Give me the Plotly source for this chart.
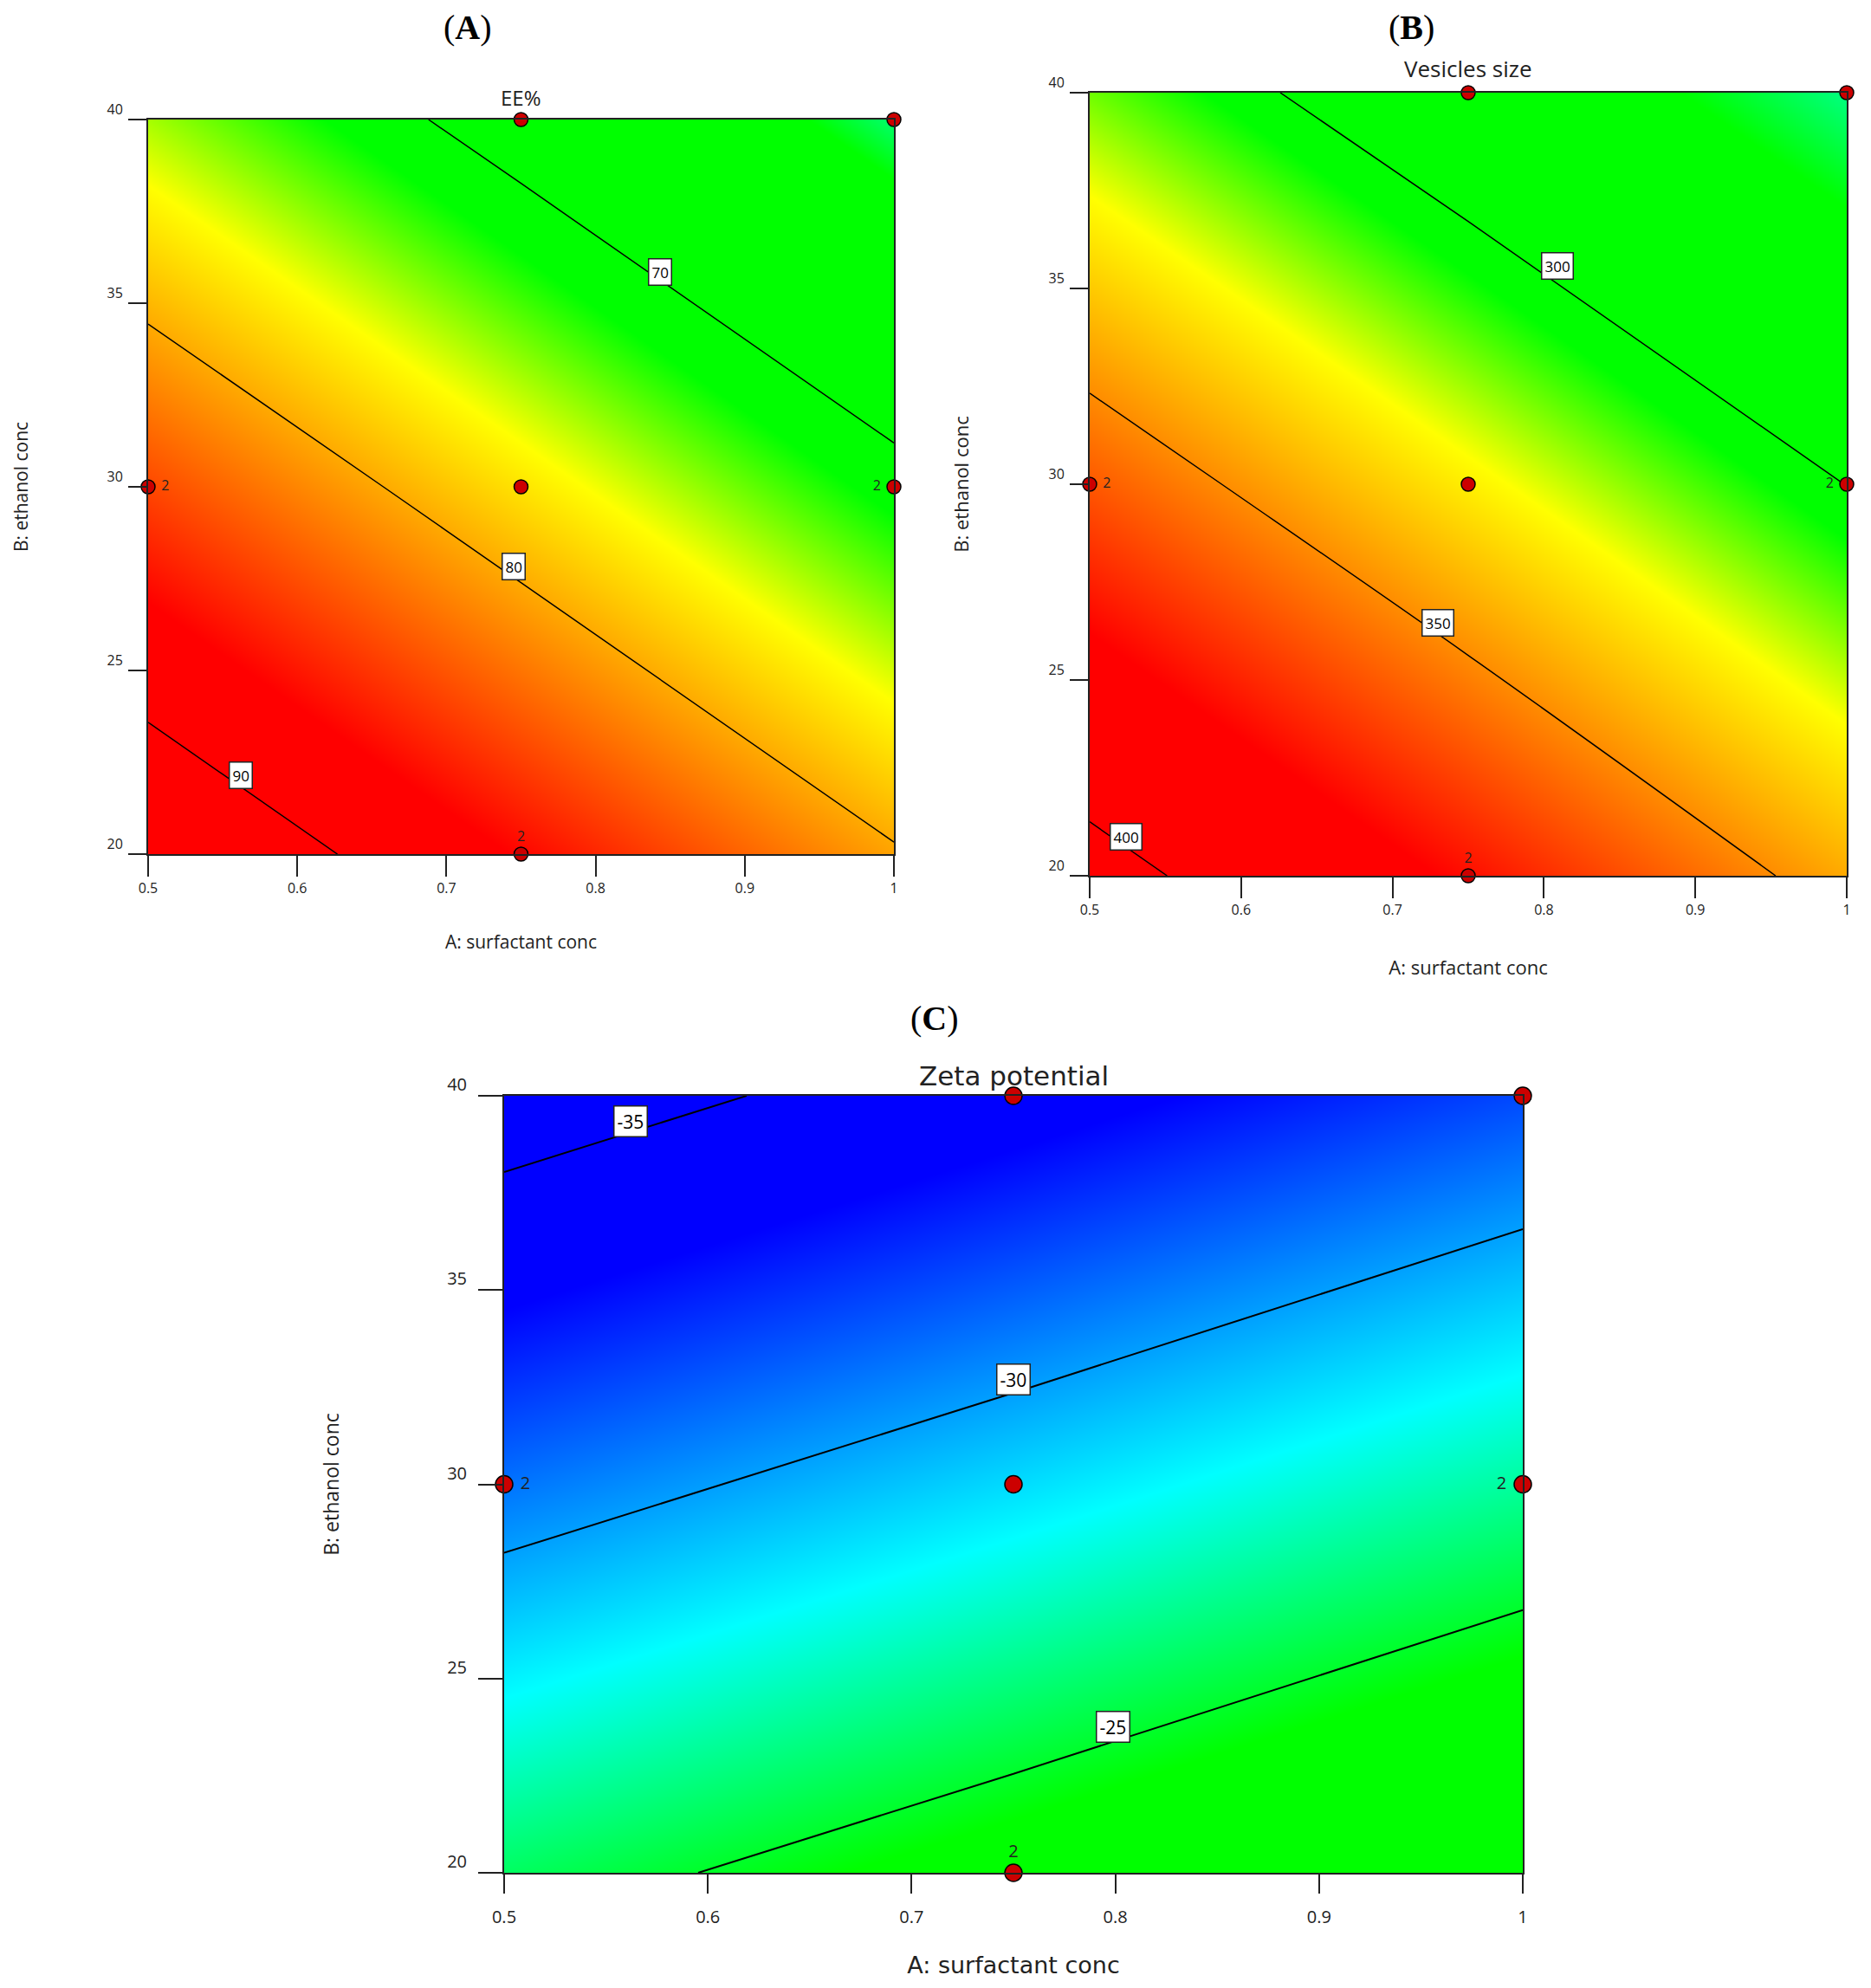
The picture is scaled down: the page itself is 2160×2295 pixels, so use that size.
import plotly.graph_objects as go

W = 2160
H = 2295
PAGE_MARGIN = 8  # browser body margin, the figure starts this far in

# design space, same for all three panels
surfactant = [0.5, 0.75, 1]
ethanol = [20, 30, 40]
x_ticks = [0.5, 0.6, 0.7, 0.8, 0.9, 1]
y_ticks = [20, 25, 30, 35, 40]

# design points and the replicate counts written next to them
point_x = [0.75, 1, 0.5, 0.75, 1, 0.75]
point_y = [40, 40, 30, 30, 30, 20]
point_reps = ["", "", "2", "", "2", "2"]
point_textpos = ["top center", "top center", "middle right", "top center", "middle left", "top center"]

# responses, rows follow ethanol
ee = [[93.3, 86.8, 80.3],
      [84.1, 77.6, 71.1],
      [74.85, 68.4, 61.9]]
vesicle = [[406.3, 375.5, 344.1],
           [360.6, 330.2, 299.8],
           [315.0, 285.2, 255.4]]
zeta = [[-25.8, -23.7, -21.55],
        [-30.9, -28.8, -26.65],
        [-36.0, -33.9, -31.75]]

# contour levels and where their labels sit
ee_levels = [70, 80, 90]
ee_label_x = [0.843, 0.745, 0.562]
ee_label_y = [35.86, 27.83, 22.14]
vesicle_levels = [300, 350, 400]
vesicle_label_x = [0.809, 0.730, 0.524]
vesicle_label_y = [35.57, 26.47, 21.0]
zeta_levels = [-35, -30, -25]
zeta_label_x = [0.562, 0.75, 0.799]
zeta_label_y = [39.35, 32.7, 23.76]

# colour ramps, given as response value -> colour
ee_colors = [(61.9, "rgb(0,255,110)"), (63.4, "rgb(0,255,0)"), (71.8, "rgb(0,255,0)"),
             (76.5, "rgb(255,255,0)"), (87.0, "rgb(255,0,0)"), (93.3, "rgb(255,0,0)")]
vesicle_colors = [(255.4, "rgb(0,255,130)"), (268.5, "rgb(0,255,0)"), (306, "rgb(0,255,0)"),
                  (327, "rgb(255,255,0)"), (378, "rgb(255,0,0)"), (406.3, "rgb(255,0,0)")]
zeta_colors = [(-36.0, "rgb(0,0,255)"), (-33.2, "rgb(0,0,255)"), (-28.1, "rgb(0,255,255)"),
               (-24.4, "rgb(0,255,0)"), (-21.55, "rgb(0,255,0)")]

SANS = "Open Sans"
WIDE = "DejaVu Sans"
SERIF = "Liberation Serif"
AXIS_COLOR = "#222222"

fig = go.Figure()
annotations = []


def colorscale(stops):
    lo = stops[0][0]
    hi = stops[-1][0]
    return [[(v - lo) / (hi - lo), c] for v, c in stops]


def spaced(text, pos):
    # nbsp keeps the side "2" labels a bit clear of their markers
    if pos == "middle left":
        return text + "\u00a0"
    if pos == "middle right":
        return "\u00a0" + text
    return text


def add_panel(n, box, z, levels, stops, label_x, label_y, title, opts):
    left, right, top, bottom = [v - PAGE_MARGIN for v in box]
    xname = "x" if n == 1 else "x%d" % n
    yname = "y" if n == 1 else "y%d" % n
    fig.add_trace(go.Contour(
        x=surfactant, y=ethanol, z=z,
        colorscale=colorscale(stops), zmin=stops[0][0], zmax=stops[-1][0],
        showscale=False, hoverinfo="skip",
        autocontour=False,
        contours=dict(coloring="heatmap", start=levels[0], end=levels[-1], size=levels[1] - levels[0]),
        line=dict(color="black", width=opts["line"]),
        xaxis=xname, yaxis=yname))
    shown = [spaced(t, p) for t, p in zip(point_reps, point_textpos)]
    fig.add_trace(go.Scatter(
        x=point_x, y=point_y, text=shown, mode="markers+text",
        textposition=point_textpos, cliponaxis=False,
        textfont=dict(family=SANS, size=opts["tick"], color="#222222"),
        marker=dict(color="#cc0000", size=opts["marker"], line=dict(color="black", width=1.5)),
        showlegend=False, hoverinfo="skip", xaxis=xname, yaxis=yname))

    layout_x = dict(
        domain=[left / W, right / W], range=[0.5, 1], anchor=yname, automargin=False,
        tickvals=x_ticks, ticktext=[str(t) for t in x_ticks],
        ticks="outside", ticklen=opts["xticklen"], tickwidth=2, tickcolor=AXIS_COLOR,
        ticklabelstandoff=opts["xgap"],
        showline=True, linecolor=AXIS_COLOR, linewidth=2, mirror=True,
        showgrid=False, zeroline=False,
        tickfont=dict(family=SANS, size=opts["tick"], color="#222222"),
        title=dict(text="A: surfactant conc", standoff=opts["xstandoff"],
                   font=dict(family=opts["xfont"], size=opts["xtitle"], color="#222222")))
    layout_y = dict(
        domain=[1 - bottom / H, 1 - top / H], range=[20, 40], anchor=xname, automargin=False,
        tickvals=y_ticks,
        ticks="outside", ticklen=opts["yticklen"], tickwidth=2, tickcolor=AXIS_COLOR,
        ticklabelshift=opts["shift"], ticklabelstandoff=opts["ygap"],
        showline=True, linecolor=AXIS_COLOR, linewidth=2, mirror=True,
        showgrid=False, zeroline=False,
        tickfont=dict(family=SANS, size=opts["tick"], color="#222222"),
        title=dict(text="B: ethanol conc", standoff=opts["ystandoff"],
                   font=dict(family=SANS, size=opts["ytitle"], color="#222222")))
    fig.update_layout({"xaxis" if n == 1 else "xaxis%d" % n: layout_x,
                       "yaxis" if n == 1 else "yaxis%d" % n: layout_y})

    for level, lx, ly in zip(levels, label_x, label_y):
        annotations.append(dict(
            x=lx, y=ly, xref=xname, yref=yname, text=str(level), showarrow=False,
            bgcolor="white", bordercolor="#222222", borderwidth=1.5, borderpad=3,
            font=dict(family=SANS, size=opts["tick"] + 1, color="black")))
    # response name sits just over the top edge
    annotations.append(dict(
        x=0.75, y=40, xref=xname, yref=yname, yanchor="bottom", yshift=opts["titleshift"],
        text=title, showarrow=False,
        font=dict(family=opts["xfont"], size=opts["head"], color="#222222")))


add_panel(1, (171, 1032, 138, 986), ee, ee_levels, ee_colors, ee_label_x, ee_label_y, "EE%",
          dict(line=1.5, tick=16, marker=16, xticklen=24, yticklen=21, shift=-12, xgap=0, ygap=3,
               xfont=SANS, xtitle=21, ytitle=21, head=24, xstandoff=45, ystandoff=85, titleshift=7))
add_panel(2, (1258, 2132, 107, 1011), vesicle, vesicle_levels, vesicle_colors,
          vesicle_label_x, vesicle_label_y, "Vesicles size",
          dict(line=1.5, tick=16, marker=16, xticklen=24, yticklen=21, shift=-12, xgap=0, ygap=3,
               xfont=SANS, xtitle=22, ytitle=22, head=26, xstandoff=49, ystandoff=86, titleshift=8))
add_panel(3, (582, 1758, 1265, 2162), zeta, zeta_levels, zeta_colors,
          zeta_label_x, zeta_label_y, "Zeta potential",
          dict(line=2, tick=20, marker=20, xticklen=22, yticklen=28, shift=-13, xgap=10, ygap=9,
               xfont=WIDE, xtitle=27, ytitle=23, head=31, xstandoff=34, ystandoff=118, titleshift=3))

# panel letters, bold letter inside plain brackets
for letter, cx, cy in [("A", 540, 32), ("B", 1629, 32), ("C", 1079, 1175)]:
    annotations.append(dict(
        x=(cx - PAGE_MARGIN) / W, y=1 - (cy - PAGE_MARGIN) / H, xref="paper", yref="paper",
        xanchor="center", yanchor="middle", showarrow=False,
        text="(<b>%s</b>)" % letter,
        font=dict(family=SERIF, size=40, color="black")))

fig.update_layout(
    width=W, height=H, margin=dict(l=0, r=0, t=0, b=0),
    paper_bgcolor="white", plot_bgcolor="white", showlegend=False,
    annotations=annotations)

fig.write_html("out.html")
